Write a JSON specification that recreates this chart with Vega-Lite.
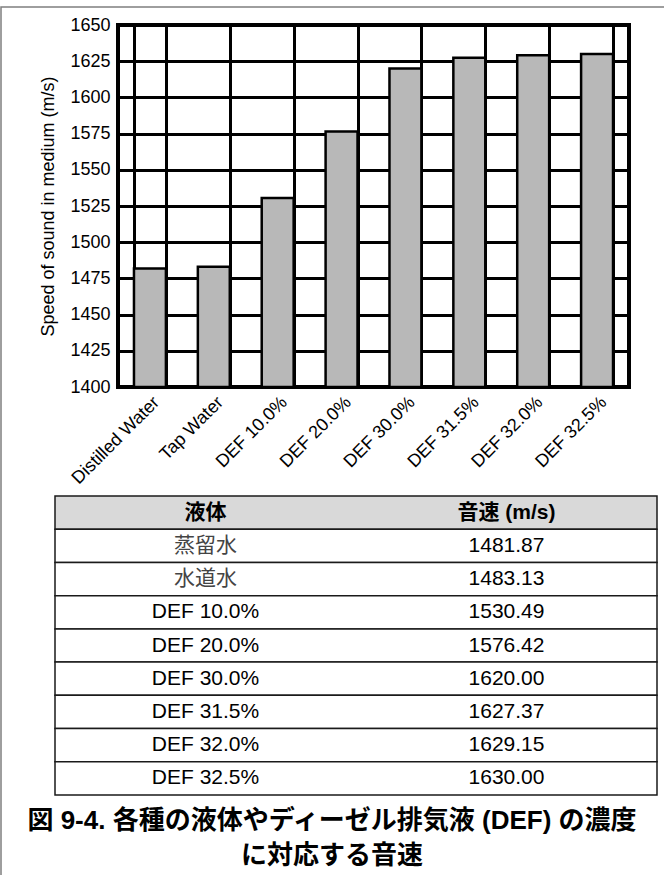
{
  "$schema": "https://vega.github.io/schema/vega-lite/v6.json",
  "autosize": "none",
  "width": 511,
  "height": 362,
  "padding": {"left": 118, "top": 25, "right": 35, "bottom": 488},
  "background": "white",
  "config": {
    "view": {"stroke": "black", "strokeWidth": 4},
    "font": "Liberation Sans"
  },
  "datasets": {
    "bars": [
      {"liquid": "Distilled Water", "speed": 1481.87},
      {"liquid": "Tap Water", "speed": 1483.13},
      {"liquid": "DEF 10.0%", "speed": 1530.49},
      {"liquid": "DEF 20.0%", "speed": 1576.42},
      {"liquid": "DEF 30.0%", "speed": 1620.0},
      {"liquid": "DEF 31.5%", "speed": 1627.37},
      {"liquid": "DEF 32.0%", "speed": 1629.15},
      {"liquid": "DEF 32.5%", "speed": 1630.0}
    ],
    "table": [
      {"row": 0, "col": "liquid", "text": "液体"},
      {"row": 0, "col": "speed", "text": "音速 (m/s)"},
      {"row": 1, "col": "liquid", "text": "蒸留水"},
      {"row": 1, "col": "speed", "text": "1481.87"},
      {"row": 2, "col": "liquid", "text": "水道水"},
      {"row": 2, "col": "speed", "text": "1483.13"},
      {"row": 3, "col": "liquid", "text": "DEF 10.0%"},
      {"row": 3, "col": "speed", "text": "1530.49"},
      {"row": 4, "col": "liquid", "text": "DEF 20.0%"},
      {"row": 4, "col": "speed", "text": "1576.42"},
      {"row": 5, "col": "liquid", "text": "DEF 30.0%"},
      {"row": 5, "col": "speed", "text": "1620.00"},
      {"row": 6, "col": "liquid", "text": "DEF 31.5%"},
      {"row": 6, "col": "speed", "text": "1627.37"},
      {"row": 7, "col": "liquid", "text": "DEF 32.0%"},
      {"row": 7, "col": "speed", "text": "1629.15"},
      {"row": 8, "col": "liquid", "text": "DEF 32.5%"},
      {"row": 8, "col": "speed", "text": "1630.00"}
    ],
    "caption": [
      {"line": 1, "text": "図 9-4. 各種の液体やディーゼル排気液 (DEF) の濃度"},
      {"line": 2, "text": "に対応する音速"}
    ]
  },
  "layer": [
    {
      "data": {"name": "bars"},
      "mark": {"type": "bar", "fill": "#b8b8b8", "stroke": "black", "strokeWidth": 2.5},
      "encoding": {
        "x": {
          "field": "liquid", "type": "nominal", "sort": null,
          "scale": {"paddingInner": 0.5, "paddingOuter": 0.25},
          "axis": {
            "title": null, "orient": "bottom", "tickBand": "extent", "grid": true,
            "gridColor": "black", "gridWidth": 3, "gridOpacity": 1,
            "ticks": false, "domain": false,
            "labelAngle": -45, "labelAlign": "right", "labelBaseline": "top",
            "labelFont": "Liberation Sans", "labelFontSize": 18, "labelColor": "black",
            "labelPadding": 6
          }
        },
        "y": {
          "field": "speed", "type": "quantitative",
          "scale": {"domain": [1400, 1650], "zero": false, "nice": false},
          "axis": {
            "title": "Speed of sound in medium (m/s)", "orient": "left",
            "values": [1400, 1425, 1450, 1475, 1500, 1525, 1550, 1575, 1600, 1625, 1650],
            "format": "d",
            "grid": true, "gridColor": "black", "gridWidth": 3, "gridOpacity": 1,
            "ticks": false, "domain": false,
            "labelFont": "Liberation Sans", "labelFontSize": 18, "labelColor": "black", "labelPadding": 8,
            "titleFont": "Liberation Sans", "titleFontSize": 18, "titleFontWeight": "normal",
            "titleColor": "black", "titlePadding": 12
          }
        },
        "y2": {"datum": 1400}
      }
    },
    {
      "data": {"name": "table"},
      "transform": [{"filter": "datum.col === 'liquid'"}],
      "mark": {"type": "rect", "stroke": "#1a1a1a", "strokeWidth": 1.5},
      "encoding": {
        "y": {
          "field": "row", "type": "ordinal",
          "scale": {"type": "band", "domain": [0, 1, 2, 3, 4, 5, 6, 7, 8], "range": [471, 770], "paddingInner": 0, "paddingOuter": 0},
          "axis": null
        },
        "x": {"datum": 0, "type": "quantitative", "scale": {"domain": [0, 1], "range": [-63, 539], "nice": false, "zero": false}, "axis": null},
        "x2": {"datum": 1},
        "fill": {"condition": {"test": "datum.row === 0", "value": "#d9d9d9"}, "value": "white"}
      }
    },
    {
      "data": {"name": "table"},
      "transform": [{"filter": "datum.row === 0"}],
      "mark": {"type": "text", "font": "Liberation Sans, Noto Sans CJK JP", "fontSize": 21, "fontWeight": "bold", "color": "black", "baseline": "middle", "align": "center"},
      "encoding": {
        "y": {
          "field": "row", "type": "ordinal",
          "scale": {"type": "band", "domain": [0, 1, 2, 3, 4, 5, 6, 7, 8], "range": [471, 770], "paddingInner": 0, "paddingOuter": 0},
          "axis": null
        },
        "x": {
          "field": "col", "type": "nominal",
          "scale": {"type": "band", "domain": ["liquid", "speed"], "range": [-63, 539], "paddingInner": 0, "paddingOuter": 0},
          "axis": null
        },
        "text": {"field": "text"}
      }
    },
    {
      "data": {"name": "table"},
      "transform": [{"filter": "datum.row > 0"}],
      "mark": {"type": "text", "font": "Liberation Sans, Noto Sans CJK JP", "fontSize": 21, "baseline": "middle", "align": "center"},
      "encoding": {
        "y": {
          "field": "row", "type": "ordinal",
          "scale": {"type": "band", "domain": [0, 1, 2, 3, 4, 5, 6, 7, 8], "range": [471, 770], "paddingInner": 0, "paddingOuter": 0},
          "axis": null
        },
        "x": {
          "field": "col", "type": "nominal",
          "scale": {"type": "band", "domain": ["liquid", "speed"], "range": [-63, 539], "paddingInner": 0, "paddingOuter": 0},
          "axis": null
        },
        "text": {"field": "text"},
        "color": {"condition": {"test": "datum.row <= 2 && datum.col === 'liquid'", "value": "#444444"}, "value": "black"}
      }
    },
    {
      "data": {"name": "caption"},
      "mark": {"type": "text", "font": "Liberation Sans, Noto Sans CJK JP", "fontWeight": "bold", "fontSize": 26, "color": "black", "baseline": "middle", "align": "center"},
      "encoding": {
        "y": {
          "field": "line", "type": "ordinal",
          "scale": {"type": "point", "domain": [1, 2], "range": [796, 831], "padding": 0},
          "axis": null
        },
        "x": {"datum": 0.5, "type": "quantitative", "scale": {"domain": [0, 1], "range": [-118, 546], "nice": false, "zero": false}, "axis": null},
        "text": {"field": "text"}
      }
    },
    {
      "data": {"values": [{}]},
      "mark": {"type": "rect", "fill": "transparent", "stroke": "#7f7f7f", "strokeWidth": 1.5},
      "encoding": {
        "x": {"datum": 0, "type": "quantitative", "scale": {"domain": [0, 1], "range": [-117, 700], "nice": false, "zero": false}, "axis": null},
        "x2": {"datum": 1},
        "y": {"datum": 0, "type": "quantitative", "scale": {"domain": [0, 1], "range": [-18, 900], "nice": false, "zero": false}, "axis": null},
        "y2": {"datum": 1}
      }
    }
  ],
  "resolve": {"scale": {"x": "independent", "y": "independent"}}
}
